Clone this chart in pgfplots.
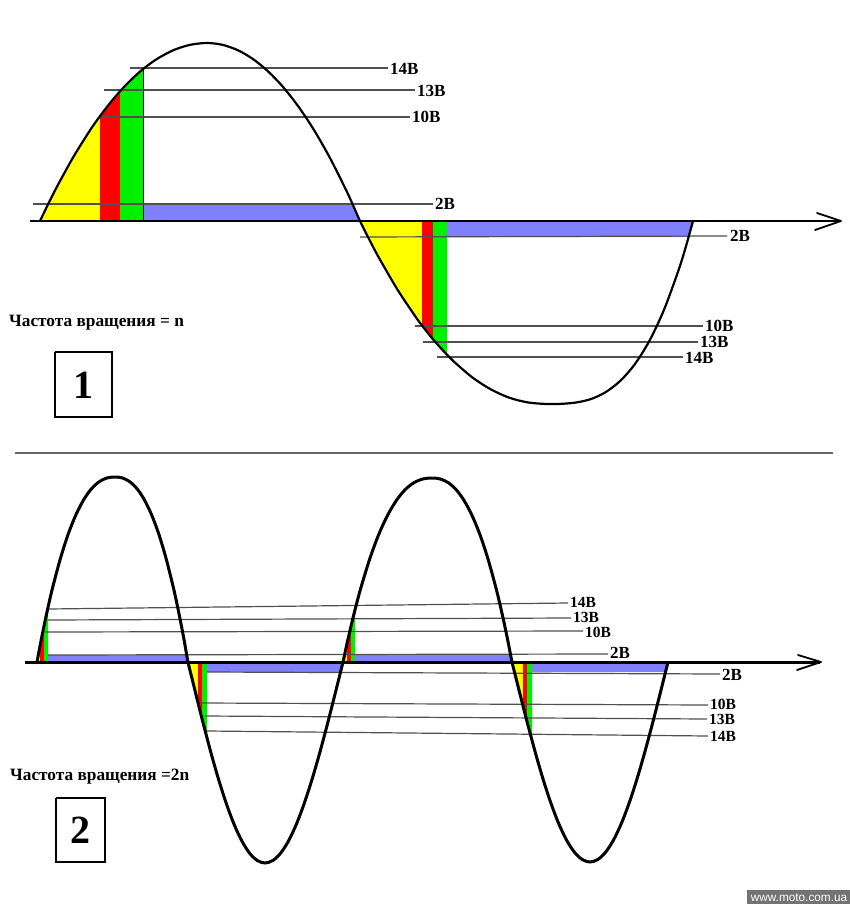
\documentclass[border=0pt]{standalone}
\usepackage{pgfplots}
\pgfplotsset{compat=1.18}
\usepackage{fontspec}
\setmainfont{Liberation Serif}
\newfontfamily\wmfont{Liberation Sans}
\newcommand\lbl{\fontsize{17}{17}\selectfont\bfseries}
\newcommand\lbls{\fontsize{15.5}{15.5}\selectfont\bfseries}
\newcommand\ttl{\fontsize{17.3}{18}\selectfont\bfseries}
\newcommand\bignum{\fontsize{40}{40}\selectfont\bfseries}
\definecolor{cyel}{HTML}{FFFF00}
\definecolor{cred}{HTML}{FF0000}
\definecolor{cgrn}{HTML}{00F000}
\definecolor{cblu}{HTML}{8080FF}
\definecolor{cline}{HTML}{505050}
\begin{document}
\begin{tikzpicture}
\begin{axis}[width=850pt, height=904pt, scale only axis,
  xmin=0, xmax=850, ymin=0, ymax=904, y dir=reverse,
  axis lines=none, clip=false, ticks=none]
% bounding
\addplot[draw=none] coordinates {(0,0) (850,904)};
% ---------------- Panel 1 fills
\addplot[fill=cyel, draw=none] coordinates {(40,221)(48.4,203.6)(56.7,187.2)(73.4,156.9)(90.1,130.2)(100,116.1)(100,221)};
\addplot[fill=cred, draw=none] coordinates {(100,221)(100,116.1)(110,103.1)(120,91.3)(120,221)};
\addplot[fill=cgrn, draw=none] coordinates {(120,221)(120,91.3)(131,79.9)(143,69.1)(143,221)};
\addplot[fill=cblu, draw=none] coordinates {(143,205)(353,205)(360,221)(143,221)};
\addplot[fill=cyel, draw=none] coordinates {(360,221)(369.35,239.7)(378.7,257.3)(397.4,289.5)(416.1,317.5)(422,325.5)(422,221)};
\addplot[fill=cred, draw=none] coordinates {(422,221)(422,325.5)(433,339.3)(433,221)};
\addplot[fill=cgrn, draw=none] coordinates {(433,221)(433,339.3)(447,354.8)(447,221)};
\addplot[fill=cblu, draw=none] coordinates {(447,221)(693,221)(688.6,237)(447,237)};
\addplot[black, line width=0.6pt] coordinates {(143,69)(143,221)};
% Panel 1 level lines
\addplot[cline, line width=1.2pt] coordinates {(130,68)(388,68)};
\addplot[cline, line width=1.2pt] coordinates {(104,90)(415,90)};
\addplot[cline, line width=1.2pt] coordinates {(100,117)(410,117)};
\addplot[cline, line width=1.2pt] coordinates {(33,204)(433,204)};
\addplot[cline, line width=1.2pt] coordinates {(360,237)(727,236)};
\addplot[cline, line width=1.2pt] coordinates {(415,326)(703,326)};
\addplot[cline, line width=1.2pt] coordinates {(423,342)(698,342)};
\addplot[cline, line width=1.2pt] coordinates {(437,357)(683,357)};
% Panel 1 curve
\addplot[black, line width=2.2pt, smooth, tension=0.5] coordinates {
(40,221)(48.4,203.6)(56.7,187.2)(73.4,156.9)(90.1,130.2)(100,116.1)(110,103.1)(120,91.3)
(131,79.9)(143,69.1)(156.9,59.0)(173.6,50.1)(190.3,44.8)(207,43)
(222.3,44.8)(237.6,50.1)(252.9,59.0)(268.2,71.5)(283.5,87.5)(298.8,107.1)(314.1,130.2)
(329.4,156.9)(344.7,187.2)(352.35,203.6)(360,221)
(369.35,239.7)(378.7,257.3)(397.4,289.5)(416.1,317.5)(422,325.5)(433,339.3)(447,354.8)
(453.5,361.3)(472.2,377.3)(490.9,389.4)(509.6,397.8)(528.3,402.5)(547,404)
(561.6,403.8)(576.2,402.5)(590.8,399.1)(605.4,392.3)(620,381.1)(634.6,364.5)
(649.2,341.2)(663.8,310.3)(678.4,270.6)(685.7,247.2)(693,221)};
% Panel 1 axis
\addplot[black, line width=2.4pt] coordinates {(30,221)(840,221)};
\addplot[black, line width=1.8pt, line join=round, line cap=round] coordinates {(817,213)(841,221)(815,230)};
% Panel 1 labels
\node[anchor=west, font=\lbl, inner sep=2pt] at (axis cs:388,69) {14В};
\node[anchor=west, font=\lbl, inner sep=2pt] at (axis cs:415,91) {13В};
\node[anchor=west, font=\lbl, inner sep=2pt] at (axis cs:410,117) {10В};
\node[anchor=west, font=\lbl, inner sep=2pt] at (axis cs:433,204) {2В};
\node[anchor=west, font=\lbl, inner sep=2pt] at (axis cs:728,236) {2В};
\node[anchor=west, font=\lbl, inner sep=2pt] at (axis cs:703,326) {10В};
\node[anchor=west, font=\lbl, inner sep=2pt] at (axis cs:698,342) {13В};
\node[anchor=west, font=\lbl, inner sep=2pt] at (axis cs:683,358) {14В};
\node[anchor=west, font=\ttl, inner sep=0pt] at (axis cs:9,323) {Частота вращения = n};
\addplot[black, line width=2.5pt, line join=miter] coordinates {(55,352)(112,352)(112,417)(55,417)(55,352)};
\node[font=\bignum] at (axis cs:83.5,385) {1};
% separator
\addplot[black!60, line width=1.2pt] coordinates {(15,453)(833,453)};
% ---------------- Panel 2 fills
\addplot[fill=cyel, draw=none] coordinates {(37,662)(40,646)(40,662)};
\addplot[fill=cred, draw=none] coordinates {(40,662)(40,646)(44,626)(44,662)};
\addplot[fill=cgrn, draw=none] coordinates {(44,662)(44,626)(48,607.4)(48,662)};
\addplot[fill=cblu, draw=none] coordinates {(48,655)(186.8,655)(188,662)(48,662)};
\addplot[fill=cyel, draw=none] coordinates {(188,662)(191.85,677.8)(195.7,693.4)(198,702.8)(198,662)};
\addplot[fill=cred, draw=none] coordinates {(198,662)(198,702.8)(202,718.6)(202,662)};
\addplot[fill=cgrn, draw=none] coordinates {(202,662)(202,718.6)(207,738)(207,662)};
\addplot[fill=cblu, draw=none] coordinates {(207,662)(343,662)(340.5,672)(207,672)};
\addplot[fill=cyel, draw=none] coordinates {(343,662)(347,643.5)(347,662)};
\addplot[fill=cred, draw=none] coordinates {(347,662)(347,643.5)(351,626.2)(351,662)};
\addplot[fill=cgrn, draw=none] coordinates {(351,662)(351,626.2)(355,609.9)(355,662)};
\addplot[fill=cblu, draw=none] coordinates {(355,655)(510.7,655)(512,662)(355,662)};
\addplot[fill=cyel, draw=none] coordinates {(512,662)(515.9,677.7)(519.8,693.3)(523,706)(523,662)};
\addplot[fill=cred, draw=none] coordinates {(523,662)(523,706)(527,721.5)(527,662)};
\addplot[fill=cgrn, draw=none] coordinates {(527,662)(527,721.5)(532,740.4)(532,662)};
\addplot[fill=cblu, draw=none] coordinates {(532,662)(668,662)(665.5,672)(532,672)};
% Panel 2 level lines
\addplot[cline, line width=1.2pt] coordinates {(48,609)(568,603)};
\addplot[cline, line width=1.2pt] coordinates {(48,620)(571,618)};
\addplot[cline, line width=1.2pt] coordinates {(45,632)(583,631)};
\addplot[cline, line width=1.2pt] coordinates {(48,655)(608,654)};
\addplot[cline, line width=1.2pt] coordinates {(207,672)(720,674)};
\addplot[cline, line width=1.2pt] coordinates {(200,703)(708,705)};
\addplot[cline, line width=1.2pt] coordinates {(205,716)(707,719)};
\addplot[cline, line width=1.2pt] coordinates {(207,731)(708,736)};
% Panel 2 curve
\addplot[black, line width=3pt, smooth, tension=0.5] coordinates {
(37,662)(40.9,641.4)(44.8,622.2)(48.7,604.3)(52.6,587.7)(60.4,558.5)(68.2,534.1)(76,514.6)
(83.8,499.5)(91.6,488.6)(99.4,481.6)(107.2,477.9)(115,477)
(122.3,477.9)(129.6,481.6)(136.9,488.6)(144.2,499.5)(151.5,514.6)(158.8,534.1)(166.1,558.5)
(173.4,587.7)(177.05,604.3)(180.7,622.2)(184.35,641.4)(188,662)
(191.85,677.8)(195.7,693.4)(199.55,708.9)(203.4,724.1)(211.1,753.3)(218.8,780.1)(226.5,804.1)
(234.2,824.6)(241.9,841.1)(249.6,853.2)(257.3,860.5)(265,863)
(272.8,860.5)(280.6,853.2)(288.4,841.1)(296.2,824.6)(304,804.1)(311.8,780.1)(319.6,753.3)
(327.4,724.1)(335.2,693.4)(339.1,677.8)(343,662)
(347.45,641.5)(351.9,622.4)(356.35,604.6)(360.8,588.1)(369.7,559.0)(378.6,534.8)(387.5,515.4)
(396.4,500.4)(405.3,489.5)(414.2,482.5)(423.1,478.9)(432,478)
(440,478.9)(448,482.5)(456,489.5)(464,500.4)(472,515.4)(480,534.8)(488,559.0)
(496,588.1)(500,604.6)(504,622.4)(508,641.5)(512,662)
(515.9,677.7)(519.8,693.3)(523.7,708.7)(527.6,723.8)(535.4,752.8)(543.2,779.6)(551,803.4)
(558.8,823.8)(566.6,840.2)(574.4,852.2)(582.2,859.5)(590,862)
(597.8,859.5)(605.6,852.2)(613.4,840.2)(621.2,823.8)(629,803.4)(636.8,779.6)(644.6,752.8)
(652.4,723.8)(660.2,693.3)(664.1,677.7)(668,662)};
% Panel 2 axis
\addplot[black, line width=3pt] coordinates {(25,662)(820,662)};
\addplot[black, line width=1.8pt, line join=round, line cap=round] coordinates {(798,655)(821,662)(797,670)};
% Panel 2 labels
\node[anchor=west, font=\lbls, inner xsep=2pt, inner ysep=0pt] at (axis cs:568,602) {14В};
\node[anchor=west, font=\lbls, inner xsep=2pt, inner ysep=0pt] at (axis cs:571,617) {13В};
\node[anchor=west, font=\lbls, inner xsep=2pt, inner ysep=0pt] at (axis cs:583,632) {10В};
\node[anchor=west, font=\lbl, inner sep=2pt] at (axis cs:608,653) {2В};
\node[anchor=west, font=\lbl, inner sep=2pt] at (axis cs:720,675) {2В};
\node[anchor=west, font=\lbls, inner xsep=2pt, inner ysep=0pt] at (axis cs:708,704) {10В};
\node[anchor=west, font=\lbls, inner xsep=2pt, inner ysep=0pt] at (axis cs:707,719) {13В};
\node[anchor=west, font=\lbls, inner xsep=2pt, inner ysep=0pt] at (axis cs:708,736) {14В};
\node[anchor=west, font=\ttl, inner sep=0pt] at (axis cs:10,777) {Частота вращения =2n};
\addplot[black, line width=2.5pt, line join=miter] coordinates {(56,798)(105,798)(105,862)(56,862)(56,798)};
\node[font=\bignum] at (axis cs:80.5,830) {2};
% watermark
\addplot[fill=black!55, draw=none] coordinates {(747,890)(850,890)(850,904)(747,904)};
\node[font=\wmfont\fontsize{11.8}{12}\selectfont, text=white, inner sep=0pt] at (axis cs:799,897.5) {www.moto.com.ua};
\end{axis}
\end{tikzpicture}
\end{document}
